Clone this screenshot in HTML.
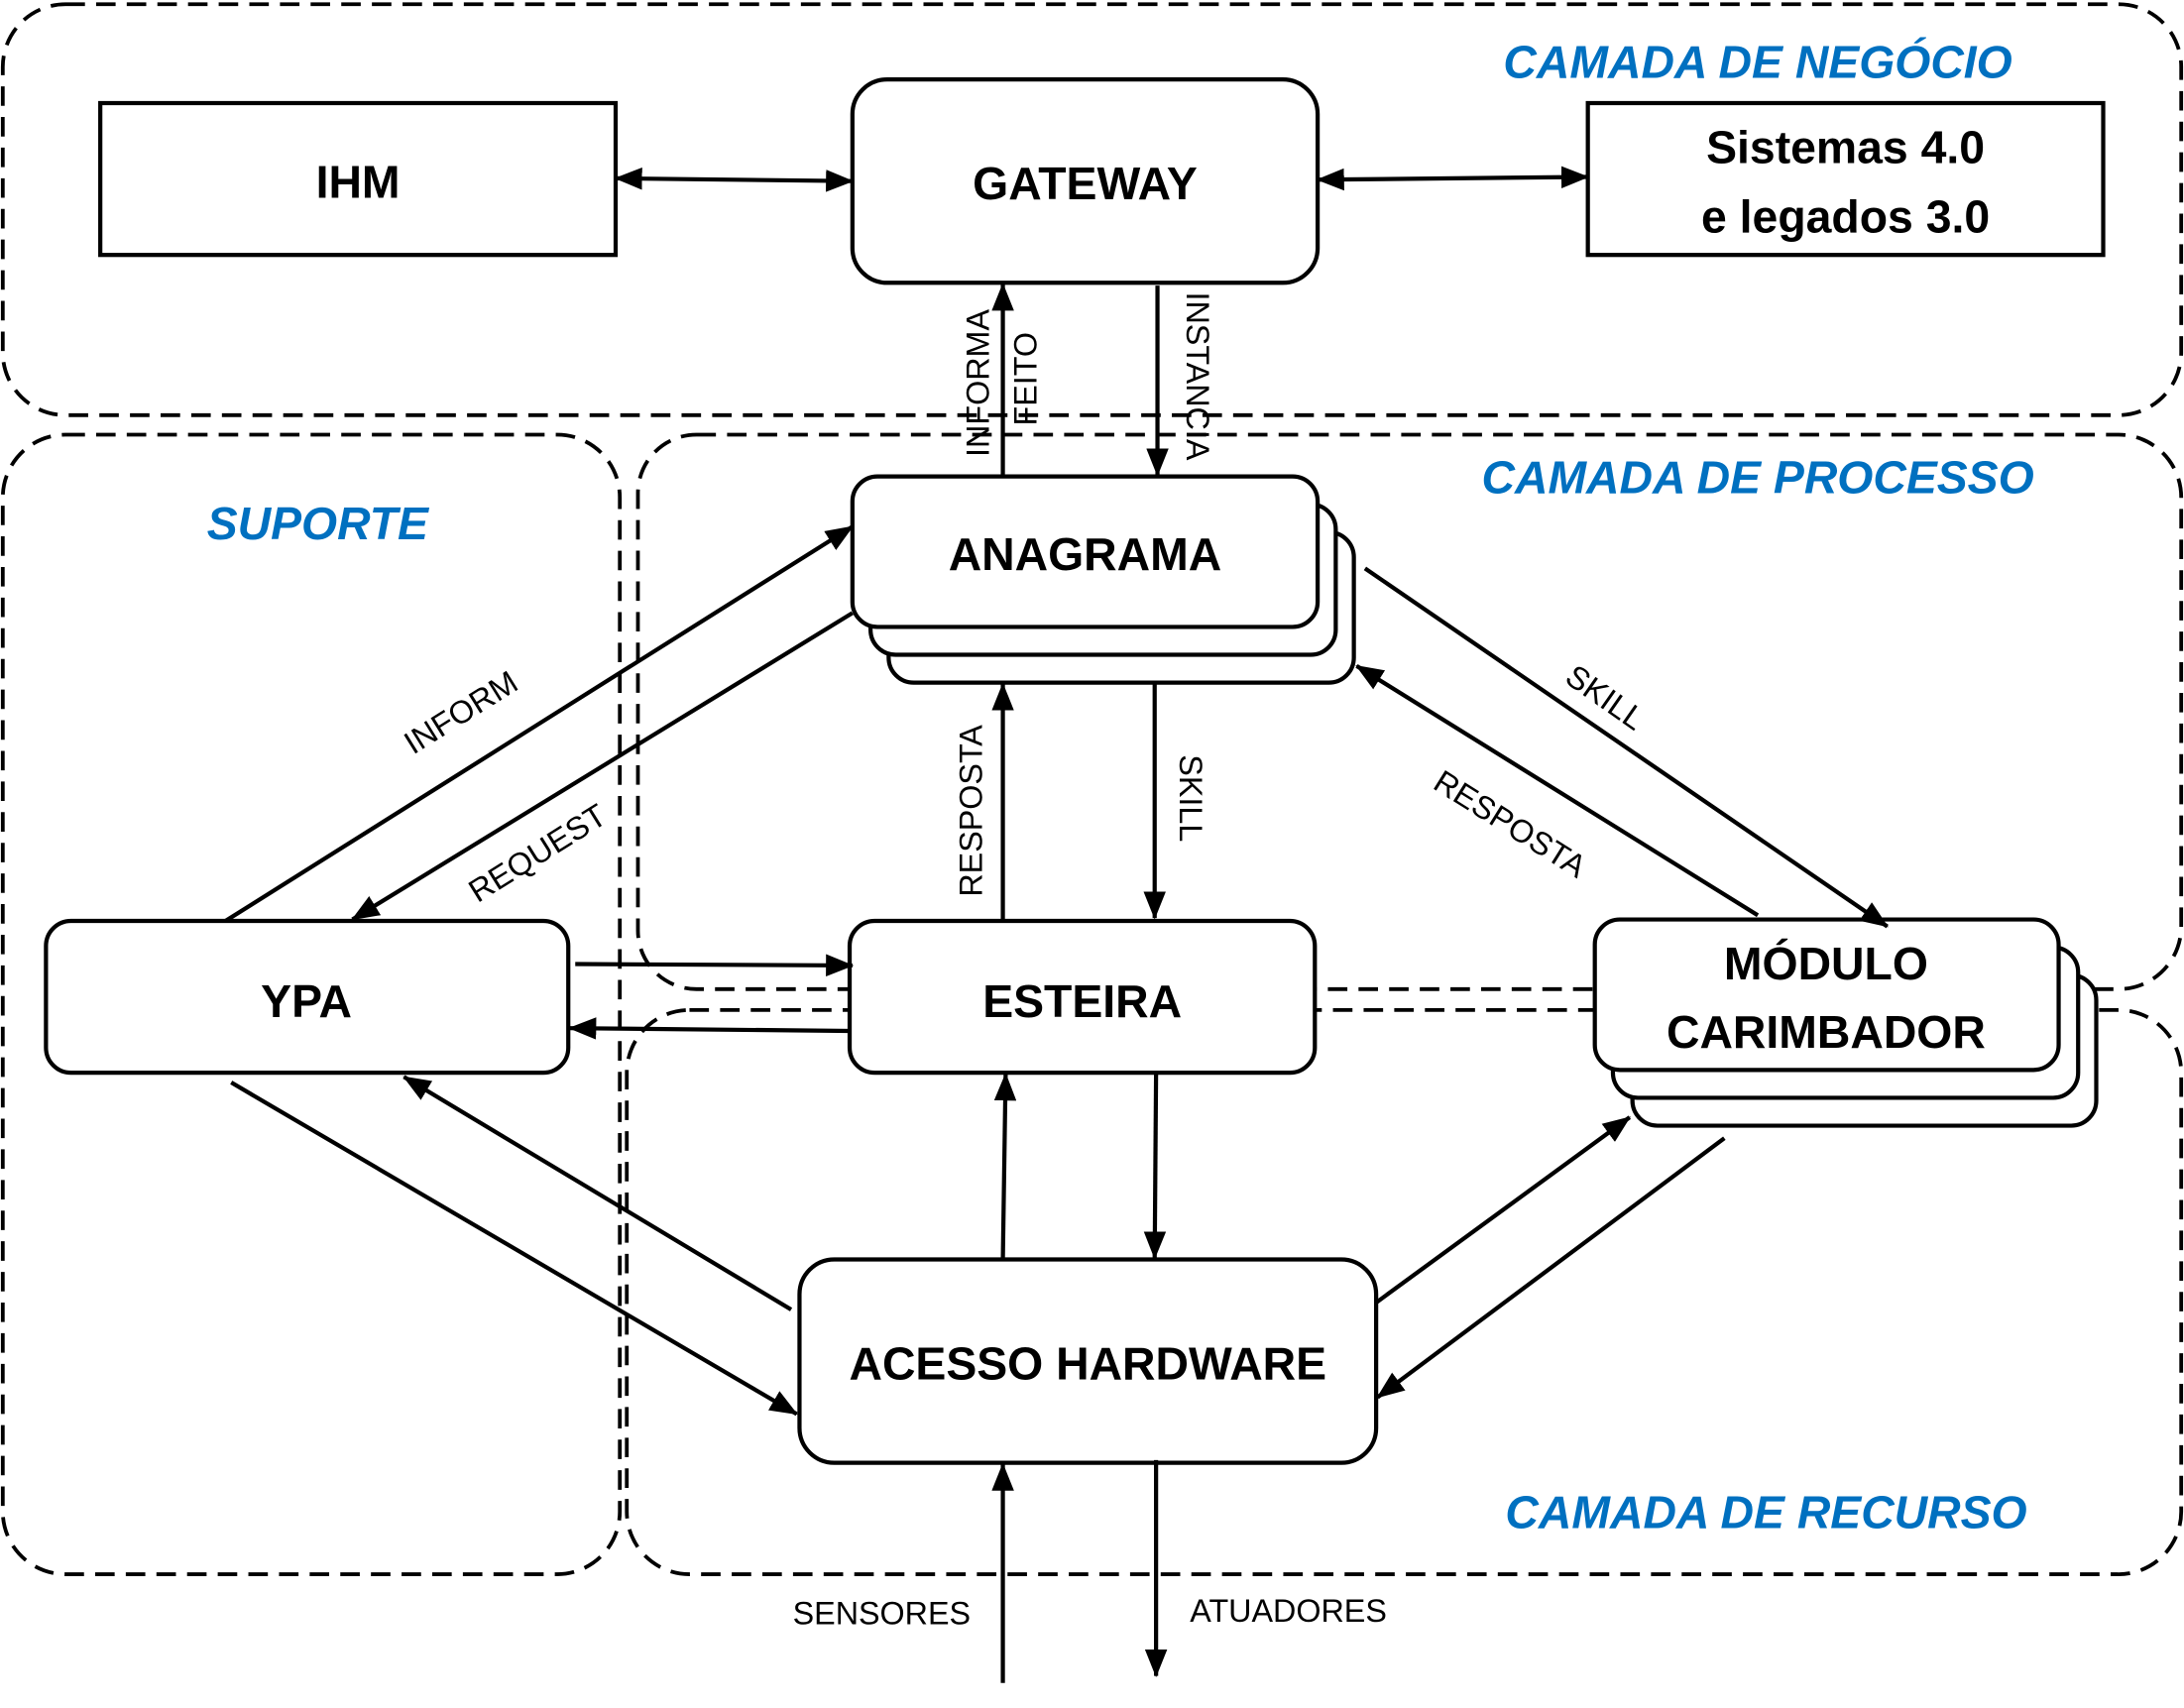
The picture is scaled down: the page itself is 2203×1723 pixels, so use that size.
<!DOCTYPE html>
<html><head><meta charset="utf-8"><style>
html,body{margin:0;padding:0;background:#fff;}
svg{display:block;}
text{font-family:"Liberation Sans",sans-serif;}
.n{font-size:33px;font-weight:bold;text-anchor:middle;fill:#000;}
.l{font-size:23px;fill:#000;text-anchor:middle;}
.b{font-size:33px;font-weight:bold;font-style:italic;fill:#0070C0;text-anchor:middle;}
</style></head><body>
<svg width="2203" height="1723" viewBox="0 0 1568 1226" preserveAspectRatio="none" xmlns="http://www.w3.org/2000/svg">
<defs><marker id="a" markerWidth="20" markerHeight="16" refX="19" refY="8" orient="auto" markerUnits="userSpaceOnUse" viewBox="0 0 20 16"><path d="M0,0 L20,8 L0,16 z" fill="#000"/></marker>
<marker id="s" markerWidth="20" markerHeight="16" refX="1" refY="8" orient="auto" markerUnits="userSpaceOnUse" viewBox="0 0 20 16"><path d="M20,0 L0,8 L20,16 z" fill="#000"/></marker></defs>
<g fill="none" stroke="#000" stroke-width="2.7" stroke-dasharray="14,8">
<rect x="2" y="3" width="1564" height="295" rx="45"/>
<rect x="2" y="312" width="443" height="818" rx="45"/>
<path d="M500,312 H1520 A45,45 0 0 1 1566,357 V665 A45,45 0 0 1 1520,710 H500 A42,42 0 0 1 458,668 V354 A42,42 0 0 1 500,312 Z"/>
<path d="M495,725 H1520 A45,45 0 0 1 1566,770 V1085 A45,45 0 0 1 1520,1130 H495 A45,45 0 0 1 450,1085 V770 A45,45 0 0 1 495,725 Z"/>
</g>
<g stroke="#000" stroke-width="3" fill="#fff">
<rect x="72" y="74" width="370" height="109"/>
<rect x="1140" y="74" width="370" height="109"/>
<rect x="612" y="57" width="334" height="146" rx="25"/>
<rect x="638" y="382" width="334" height="108" rx="18"/>
<rect x="625" y="362" width="334" height="108" rx="18"/>
<rect x="612" y="342" width="334" height="108" rx="18"/>
<rect x="33" y="661" width="375" height="109" rx="18"/>
<rect x="610" y="661" width="334" height="109" rx="18"/>
<rect x="1172" y="700" width="333" height="108" rx="18"/>
<rect x="1158" y="680" width="334" height="108" rx="18"/>
<rect x="1145" y="660" width="333" height="108" rx="18"/>
<rect x="574" y="904" width="414" height="146" rx="25"/>
</g>
<g stroke="#000" stroke-width="3" fill="none" marker-end="url(#a)">
<line x1="442" y1="128" x2="612" y2="130" marker-start="url(#s)"/>
<line x1="946" y1="129" x2="1140" y2="127" marker-start="url(#s)"/>
<line x1="720" y1="342" x2="720" y2="204"/>
<line x1="831" y1="205" x2="831" y2="341"/>
<line x1="162" y1="661" x2="612" y2="378"/>
<line x1="612" y1="440" x2="253" y2="660"/>
<line x1="720" y1="661" x2="720" y2="491"/>
<line x1="829" y1="490" x2="829" y2="659"/>
<line x1="980" y1="408" x2="1355" y2="665"/>
<line x1="1262" y1="657" x2="974" y2="478"/>
<line x1="413" y1="692" x2="612" y2="693"/>
<line x1="610" y1="740" x2="409" y2="738"/>
<line x1="720" y1="904" x2="722" y2="771"/>
<line x1="830" y1="770" x2="829" y2="903"/>
<line x1="568" y1="940" x2="290" y2="773"/>
<line x1="166" y1="777" x2="572" y2="1015"/>
<line x1="988" y1="935" x2="1170" y2="802"/>
<line x1="1238" y1="817" x2="989" y2="1003"/>
<line x1="720" y1="1208" x2="720" y2="1051"/>
<line x1="830" y1="1048" x2="830" y2="1203"/>
</g>
<text class="n" x="257" y="142">IHM</text>
<text class="n" x="779" y="143">GATEWAY</text>
<text class="n" x="1325" y="117">Sistemas 4.0</text>
<text class="n" x="1325" y="167">e legados 3.0</text>
<text class="n" x="779" y="409">ANAGRAMA</text>
<text class="n" x="220" y="730">YPA</text>
<text class="n" x="777" y="730">ESTEIRA</text>
<text class="n" x="1311" y="703">MÓDULO</text>
<text class="n" x="1311" y="752">CARIMBADOR</text>
<text class="n" x="781" y="990">ACESSO HARDWARE</text>
<text class="b" x="1262" y="56">CAMADA DE NEGÓCIO</text>
<text class="b" x="1262" y="354">CAMADA DE PROCESSO</text>
<text class="b" x="228" y="387">SUPORTE</text>
<text class="b" x="1268" y="1097">CAMADA DE RECURSO</text>
<text class="l" transform="translate(710,275) rotate(-90)">INFORMA</text>
<text class="l" transform="translate(744,272) rotate(-90)">FEITO</text>
<text class="l" transform="translate(852,270) rotate(90)">INSTANCIA</text>
<text class="l" transform="translate(335,518) rotate(-32)">INFORM</text>
<text class="l" transform="translate(390,619) rotate(-32)">REQUEST</text>
<text class="l" transform="translate(1148,507) rotate(35)">SKILL</text>
<text class="l" transform="translate(1080,598) rotate(32)">RESPOSTA</text>
<text class="l" transform="translate(705,582) rotate(-90)">RESPOSTA</text>
<text class="l" transform="translate(847,573) rotate(90)">SKILL</text>
<text class="l" x="633" y="1166">SENSORES</text>
<text class="l" x="925" y="1164">ATUADORES</text>
</svg>
</body></html>
